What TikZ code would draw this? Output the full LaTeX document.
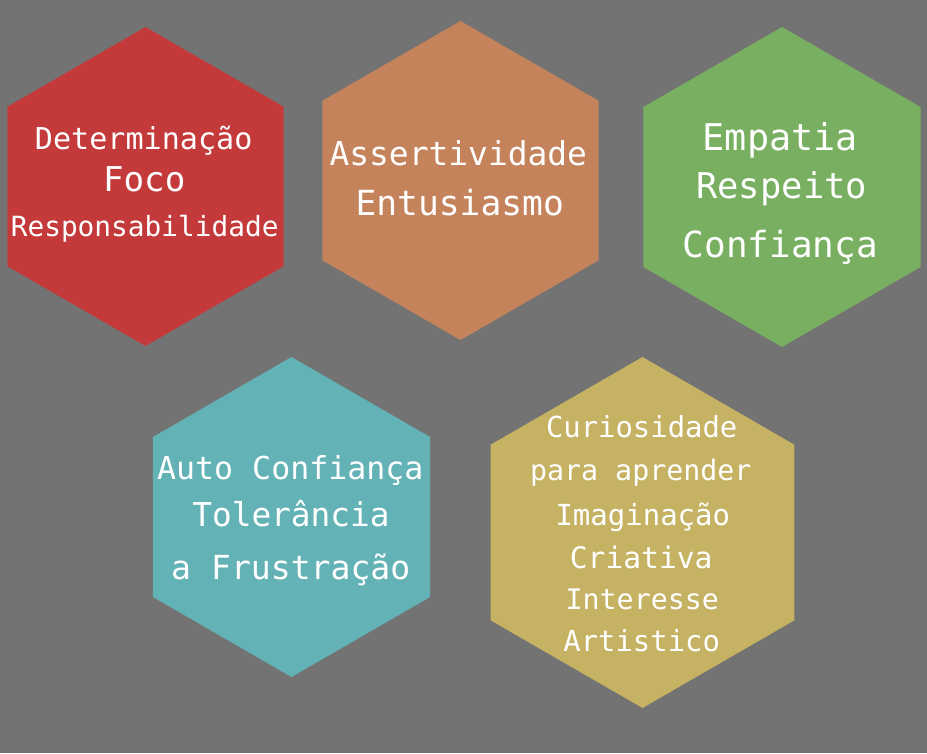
\documentclass[tikz,border=0pt]{standalone}
\usepackage{fontspec}
\setmonofont{DejaVu Sans Mono}
\usepackage{xcolor}
\definecolor{fundo}{HTML}{737373}
\definecolor{vermelho}{HTML}{C43A3A}
\definecolor{laranja}{HTML}{C5835C}
\definecolor{verde}{HTML}{78AF60}
\definecolor{turquesa}{HTML}{62B2B6}
\definecolor{mostarda}{HTML}{C6B263}
\usepackage{tikz}
\usetikzlibrary{positioning}

\begin{document}
\begin{tikzpicture}[
  x=1pt, y=-1pt,
  texto/.style={text=white, inner sep=0pt, anchor=base, font=\ttfamily\fontsize{#1}{#1}\selectfont},
  texto/.default=30
]
\fill[fundo] (0,0) rectangle (927,753);
% hexagonos
\fill[vermelho] (145.5,186.5) +(90:159.5) -- +(150:159.5) -- +(210:159.5) -- +(270:159.5) -- +(330:159.5) -- +(30:159.5) -- cycle;
\fill[laranja] (460.5,180.5) +(90:159.5) -- +(150:159.5) -- +(210:159.5) -- +(270:159.5) -- +(330:159.5) -- +(30:159.5) -- cycle;
\fill[verde] (782,187) +(90:160) -- +(150:160) -- +(210:160) -- +(270:160) -- +(330:160) -- +(30:160) -- cycle;
\fill[turquesa] (291.5,517) +(90:160) -- +(150:160) -- +(210:160) -- +(270:160) -- +(330:160) -- +(30:160) -- cycle;
\fill[mostarda] (642.5,532.5) +(90:175.5) -- +(150:175.5) -- +(210:175.5) -- +(270:175.5) -- +(330:175.5) -- +(30:175.5) -- cycle;
% textos
\node[texto=30.1] (det) at (143.7,149.3) {Determinação};
\node[texto=34.2] (foco) at (144.2,191.7) {Foco};
\node[texto=27.8] (resp) at (144.7,236.7) {Responsabilidade};
\node[texto=32.9] (asse) at (458.3,165) {Assertividade};
\node[texto=34.6] (entu) at (459.7,215) {Entusiasmo};
\node[texto=36.8] (empa) at (780.3,150) {Empatia};
\node[texto=35.5] (resp2) at (781.7,198.3) {Respeito};
\node[texto=36] (conf) at (780.3,257.3) {Confiança};
\node[texto=31.6] (auto) at (290.3,479.3) {Auto Confiança};
\node[texto=32.8] (tole) at (291,526.7) {Tolerância};
\node[texto=33.1] (frus) at (290.8,579.3) {a Frustração};
\node[texto=28.9] (curi) at (641.7,437.3) {Curiosidade};
\node[texto=28.3] (apre) at (640.8,480) {para aprender};
\node[texto=29] (imag) at (642.8,525) {Imaginação};
\node[texto=29.6] (cria) at (641.2,568.3) {Criativa};
\node[texto=28.3] (inte) at (642.3,609.3) {Interesse};
\node[texto=28.9] (arti) at (641.7,651.7) {Artistico};
\end{tikzpicture}
\end{document}
